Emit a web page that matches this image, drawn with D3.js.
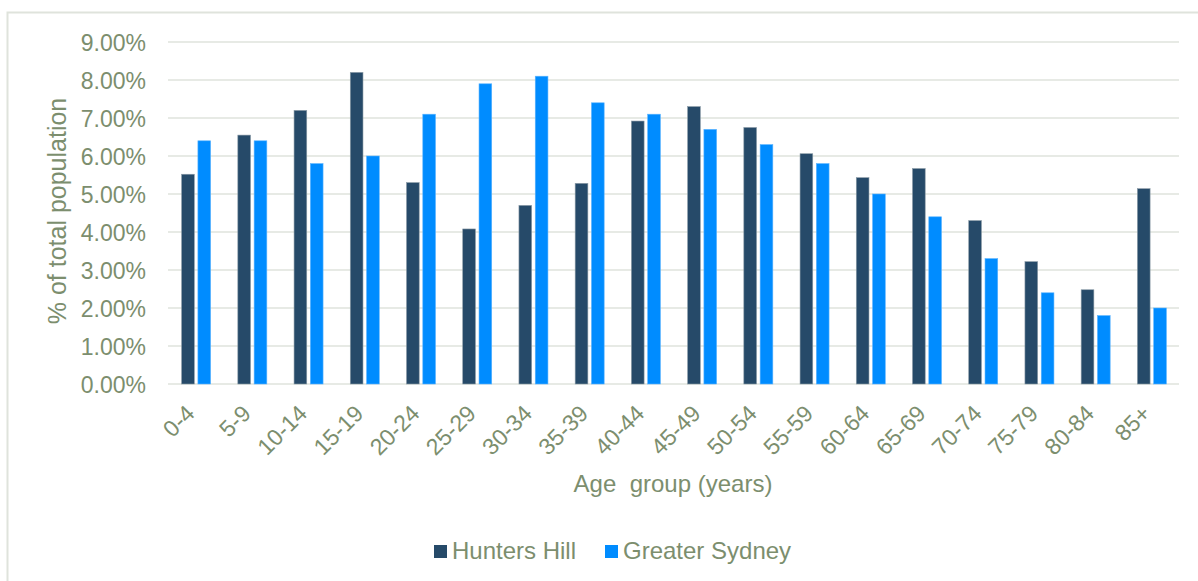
<!DOCTYPE html>
<html>
<head>
<meta charset="utf-8">
<script src="https://cdn.jsdelivr.net/npm/d3@7"></script>
<style>
  html, body { margin: 0; padding: 0; background: #fff; }
  svg { display: block; font-family: "Liberation Sans", Arial, sans-serif; }
</style>
</head>
<body>
<svg id="chart" width="1198" height="581"></svg>
<script>
// Age groups and share of total population (%) for each area
const ageGroups = ["0-4","5-9","10-14","15-19","20-24","25-29","30-34","35-39","40-44",
                   "45-49","50-54","55-59","60-64","65-69","70-74","75-79","80-84","85+"];
const huntersHill = [5.52, 6.55, 7.2, 8.2, 5.3, 4.08, 4.7, 5.28, 6.92,
                     7.3, 6.75, 6.06, 5.43, 5.67, 4.3, 3.22, 2.48, 5.14];
const greaterSydney = [6.4, 6.4, 5.8, 6.0, 7.1, 7.9, 8.1, 7.4, 7.1,
                       6.7, 6.3, 5.8, 5.0, 4.4, 3.3, 2.4, 1.8, 2.0];
const seriesNames = ["Hunters Hill", "Greater Sydney"];
const yTicks = [0, 1, 2, 3, 4, 5, 6, 7, 8, 9];

const textColor = "#7c8e6e";
const gridColor = "#dfe3dc";
const colors = ["#264a69", "#008cff"];
const fontFamily = "'Liberation Sans', Arial, sans-serif";

const svg = d3.select("#chart");

// outer chart frame
svg.append("rect")
  .attr("x", 7.5).attr("y", 12.5)
  .attr("width", 1200).attr("height", 600)
  .attr("fill", "none").attr("stroke", gridColor).attr("stroke-width", 2);

const plot = { left: 168, right: 1180, top: 42, bottom: 384 };

const x = d3.scaleBand().domain(ageGroups).range([plot.left, plot.right]).padding(0);
const y = d3.scaleLinear().domain([0, 9]).range([plot.bottom, plot.top]);

// horizontal gridlines
svg.append("g")
  .selectAll("line").data(yTicks).join("line")
  .attr("x1", plot.left).attr("x2", plot.right - 1)
  .attr("y1", d => y(d)).attr("y2", d => y(d))
  .attr("stroke", gridColor).attr("stroke-width", 1.5);

// y axis labels
const yAxis = d3.axisLeft(y).tickValues(yTicks).tickFormat(d => d.toFixed(2) + "%").tickSize(0).tickPadding(0);
svg.append("g")
  .attr("transform", `translate(${plot.left - 22},0)`)
  .call(yAxis)
  .attr("font-size", null).attr("font-family", null)
  .call(g => g.select(".domain").remove())
  .call(g => g.selectAll("text")
    .attr("dy", "0.36em")
    .style("fill", textColor).style("font-size", "23px")
    .style("font-family", fontFamily));

// bars
const bw = x.bandwidth();
const barW = 12.7;
const gap = 3.6;
const sub = d3.scaleOrdinal().domain(seriesNames).range([-(barW + gap / 2), gap / 2]);
const rows = ageGroups.map((g, i) => ({ group: g, values: [huntersHill[i], greaterSydney[i]] }));

const groups = svg.append("g").selectAll("g").data(rows).join("g")
  .attr("transform", d => `translate(${x(d.group) + bw / 2},0)`);

groups.selectAll("rect")
  .data(d => d.values.map((v, k) => ({ name: seriesNames[k], v, k })))
  .join("rect")
  .attr("x", d => sub(d.name))
  .attr("width", barW)
  .attr("y", d => y(d.v))
  .attr("height", d => y(0) - y(d.v))
  .attr("fill", d => colors[d.k])
  .attr("stroke", d => d.k === 0 ? "#8a9aa6" : "#5ab3ff")
  .attr("stroke-width", 0.6);

// x axis labels (rotated)
const xAxis = d3.axisBottom(x).tickSize(0).tickPadding(0);
svg.append("g")
  .attr("transform", `translate(0,${plot.bottom})`)
  .call(xAxis)
  .attr("font-size", null).attr("font-family", null)
  .call(g => g.select(".domain").remove())
  .call(g => g.selectAll("text")
    .style("fill", textColor).style("font-size", "23px")
    .style("font-family", fontFamily)
    .attr("text-anchor", "end")
    .attr("dy", null)
    .attr("y", 0)
    .attr("transform", "translate(0,31) rotate(-45)"));

// axis titles
svg.append("text")
  .attr("transform", `translate(66,211) rotate(-90)`)
  .attr("text-anchor", "middle")
  .style("fill", textColor).style("font-size", "25px")
  .style("font-family", fontFamily)
  .text("% of total population");

svg.append("text")
  .attr("x", 673).attr("y", 492)
  .attr("text-anchor", "middle")
  .style("fill", textColor).style("font-size", "24px")
  .style("font-family", fontFamily)
  .style("white-space", "pre")
  .text("Age  group (years)");

// legend
const legendItems = [{ name: seriesNames[0], x: 434 }, { name: seriesNames[1], x: 605 }];
const legend = svg.append("g").selectAll("g").data(legendItems).join("g")
  .attr("transform", d => `translate(${d.x},545)`);
legend.append("rect")
  .attr("width", 13).attr("height", 13)
  .attr("fill", (d, i) => colors[i]);
legend.append("text")
  .attr("x", 18).attr("y", 13.5)
  .style("fill", textColor).style("font-size", "24px")
  .style("font-family", fontFamily)
  .text(d => d.name);
</script>
</body>
</html>
